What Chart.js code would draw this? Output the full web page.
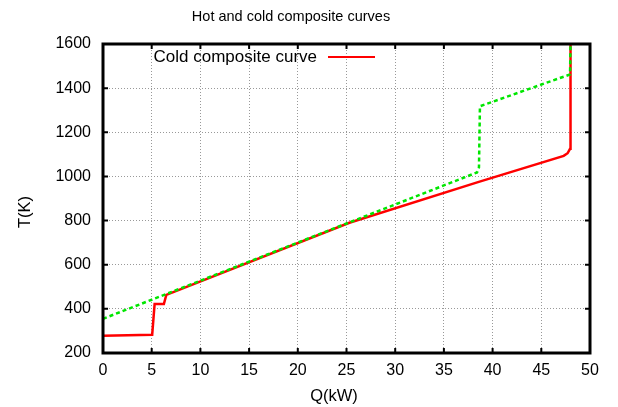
<!DOCTYPE html>
<html>
<head>
<meta charset="utf-8">
<script src="https://cdn.jsdelivr.net/npm/chart.js@4/dist/chart.umd.min.js"></script>
<style>
  html, body { margin: 0; padding: 0; background: #fff; }
  #wrap { width: 618px; height: 407px; }
</style>
</head>
<body>
<div id="wrap"><canvas id="chart" width="618" height="407"></canvas></div>
<script>
// cold composite curve (red)
const coldQ = [0, 5.05, 5.3, 6.25, 6.5, 25.3, 38.5, 47.3, 47.7, 47.95, 48.0];
const coldT = [278, 283, 422, 422, 463, 790, 974, 1093, 1105, 1125, 1600];
// hot composite curve (green, dashed)
const hotQ = [0, 38.4, 38.6, 38.7, 47.95, 48.0];
const hotT = [355, 1018, 1040, 1318, 1462, 1600];

const xTicks = [0, 5, 10, 15, 20, 25, 30, 35, 40, 45, 50];
const yTicks = [200, 400, 600, 800, 1000, 1200, 1400, 1600];

const FONT = '"Liberation Sans", Arial, Helvetica, sans-serif';

const toPoints = (qs, ts) => qs.map((q, i) => ({x: q, y: ts[i]}));

// titles, legend, frame and inward tick marks, gnuplot style
const gnuplotFrame = {
    id: 'gnuplotFrame',
    afterDraw(chart) {
        const {ctx, chartArea: a, scales} = chart;
        ctx.save();

        // small tick marks pointing inwards on all four sides
        ctx.strokeStyle = '#000';
        ctx.lineWidth = 2;
        const len = 5;
        ctx.beginPath();
        xTicks.forEach(v => {
            const px = scales.x.getPixelForValue(v);
            ctx.moveTo(px, a.bottom); ctx.lineTo(px, a.bottom - len);
            ctx.moveTo(px, a.top); ctx.lineTo(px, a.top + len);
        });
        yTicks.forEach(v => {
            const py = scales.y.getPixelForValue(v);
            ctx.moveTo(a.left, py); ctx.lineTo(a.left + len, py);
            ctx.moveTo(a.right, py); ctx.lineTo(a.right - len, py);
        });
        ctx.stroke();

        // border
        ctx.lineWidth = 3;
        ctx.strokeRect(a.left, a.top, a.right - a.left, a.bottom - a.top);

        // title + axis labels
        ctx.fillStyle = '#000';
        ctx.textAlign = 'center';
        ctx.textBaseline = 'middle';
        ctx.font = '14.5px ' + FONT;
        ctx.fillText('Hot and cold composite curves', 291, 17);
        ctx.font = '16.5px ' + FONT;
        ctx.fillText('Q(kW)', 334, 396);
        ctx.save();
        ctx.translate(25, 212);
        ctx.rotate(-Math.PI / 2);
        ctx.fillText('T(K)', 0, 0);
        ctx.restore();

        // key: only the cold curve is listed
        const ds = chart.data.datasets[0];
        ctx.textAlign = 'right';
        ctx.font = '17px ' + FONT;
        ctx.fillText(ds.label, 317, 57);
        ctx.strokeStyle = ds.borderColor;
        ctx.lineWidth = 2;
        ctx.beginPath();
        ctx.moveTo(328, 57);
        ctx.lineTo(375, 57);
        ctx.stroke();

        ctx.restore();
    }
};

new Chart(document.getElementById('chart'), {
    type: 'scatter',
    data: {
        datasets: [{
            label: 'Cold composite curve',
            data: toPoints(coldQ, coldT),
            showLine: true,
            borderColor: '#ff0000',
            borderWidth: 2.5,
            pointRadius: 0,
            tension: 0,
            order: 2
        }, {
            label: 'Hot composite curve',
            data: toPoints(hotQ, hotT),
            showLine: true,
            borderColor: '#00e600',
            borderWidth: 2.5,
            borderDash: [4, 3],
            pointRadius: 0,
            tension: 0,
            order: 1
        }]
    },
    options: {
        responsive: false,
        animation: false,
        events: [],
        layout: { padding: { left: 0, top: 44, right: 28, bottom: 0 } },
        plugins: {
            legend: { display: false },
            title: { display: false },
            tooltip: { enabled: false }
        },
        scales: {
            x: {
                type: 'linear',
                min: 0,
                max: 50,
                afterBuildTicks: s => { s.ticks = xTicks.map(v => ({value: v})); },
                afterFit: s => { s.height = 54; },
                ticks: { color: '#000', padding: 8, font: { size: 16, family: FONT },
                         callback: v => String(v) },
                grid: { color: '#999', lineWidth: 1, drawTicks: false },
                border: { display: false, dash: [1, 2] }
            },
            y: {
                type: 'linear',
                min: 200,
                max: 1600,
                afterBuildTicks: s => { s.ticks = yTicks.map(v => ({value: v})); },
                afterFit: s => { s.width = 103; },
                ticks: { color: '#000', padding: 12, font: { size: 16, family: FONT },
                         callback: v => String(v) },
                grid: { color: '#999', lineWidth: 1, drawTicks: false },
                border: { display: false, dash: [1, 2] }
            }
        }
    },
    plugins: [gnuplotFrame]
});
</script>
</body>
</html>
